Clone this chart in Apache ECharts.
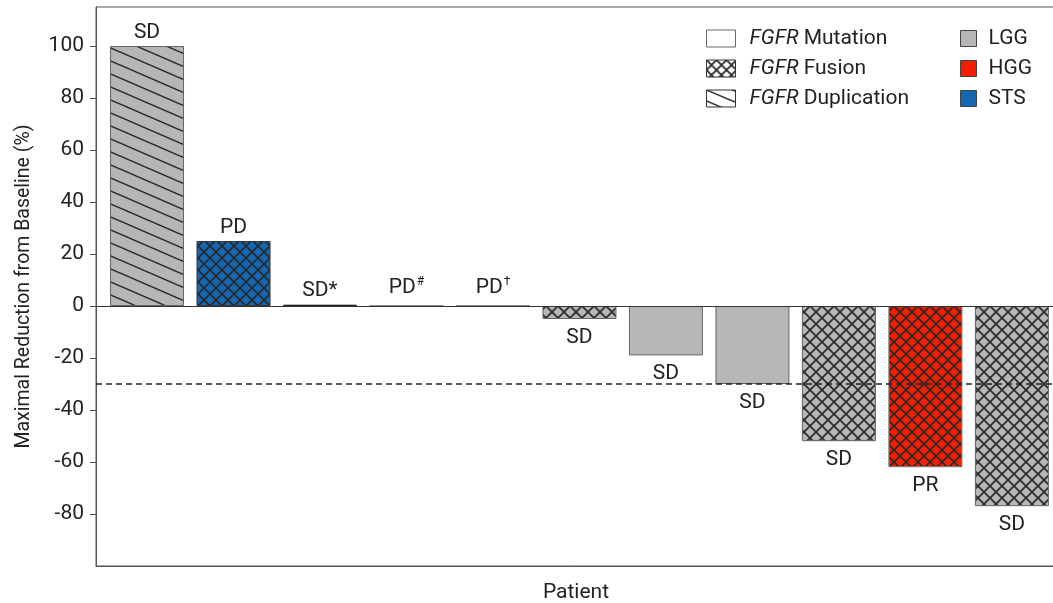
<!DOCTYPE html>
<html>
<head>
<meta charset="utf-8">
<script src="https://cdn.jsdelivr.net/npm/echarts@6/dist/echarts.min.js"></script>
<style>
  html, body { margin: 0; padding: 0; background: #fff; }
  #main { width: 1053px; height: 603px; }
</style>
</head>
<body>
<div id="main"></div>
<script>
// data
var patients = [1, 2, 3, 4, 5, 6, 7, 8, 9, 10, 11]
var reduction = [100, 25, 0.5, 0, 0, -5, -19, -30, -52, -62, -77]
var alteration = ['Duplication', 'Fusion', 'Mutation', 'Mutation', 'Mutation', 'Fusion', 'Mutation', 'Mutation', 'Fusion', 'Fusion', 'Fusion']
var tumor = ['LGG', 'STS', 'LGG', 'LGG', 'LGG', 'LGG', 'LGG', 'LGG', 'LGG', 'HGG', 'LGG']
var response = ['SD', 'PD', 'SD*', 'PD{sup|#}', 'PD{sup|†}', 'SD', 'SD', 'SD', 'SD', 'PR', 'SD']
var yTicks = [-80, -60, -40, -20, 0, 20, 40, 60, 80, 100]
var threshold = -30

var tumorColor = { LGG: '#b5b6b8', HGG: '#f51d00', STS: '#1467b3' }
var borderColor = { LGG: '#666', HGG: '#777', STS: '#333' }

// canvas patterns for hatch fills
function crossHatch (bg, s, lw) {
  var c = document.createElement('canvas')
  c.width = s; c.height = s
  var ctx = c.getContext('2d')
  ctx.fillStyle = bg
  ctx.fillRect(0, 0, s, s)
  ctx.strokeStyle = '#2a2a2a'
  ctx.lineWidth = lw
  for (var k = -1; k <= 1; k++) {
    ctx.beginPath()
    ctx.moveTo(k * s, 0); ctx.lineTo(k * s + s, s)
    ctx.moveTo(k * s + s, 0); ctx.lineTo(k * s, s)
    ctx.stroke()
  }
  return { image: c, repeat: 'repeat' }
}
function diagHatch (bg, w, h) {
  var c = document.createElement('canvas')
  c.width = w; c.height = h
  var ctx = c.getContext('2d')
  ctx.fillStyle = bg
  ctx.fillRect(0, 0, w, h)
  ctx.strokeStyle = '#2a2a2a'
  ctx.lineWidth = 1.5
  for (var k = -1; k <= 1; k++) {
    ctx.beginPath()
    ctx.moveTo(0, k * h); ctx.lineTo(w, k * h + h)
    ctx.stroke()
  }
  return { image: c, repeat: 'repeat' }
}
function fillFor (alt, bg) {
  if (alt === 'Fusion') return crossHatch(bg, 12, 1.7)
  if (alt === 'Duplication') return diagHatch(bg, 30, 13)
  return bg
}

var barData = patients.map(function (p, i) {
  var v = reduction[i]
  var t = tumor[i]
  return {
    value: [p, v],
    itemStyle: {
      color: fillFor(alteration[i], tumorColor[t]),
      borderColor: i === 2 ? '#222' : borderColor[t],
      borderWidth: 1
    },
    label: {
      position: v < 0 ? 'bottom' : 'top',
      distance: v < 0 ? 8 : (v > 0 ? 3 : 6),
      formatter: response[i]
    }
  }
})

var font = 'Roboto, "Liberation Sans", sans-serif'

var chart = echarts.init(document.getElementById('main'))
chart.setOption({
  animation: false,
  textStyle: { fontFamily: font },
  grid: {
    left: 96, right: -3, top: 7, bottom: 37,
    outerBoundsMode: 'none',
    show: true, borderColor: '#555', borderWidth: 1
  },
  legend: [
    {
      left: 701, top: 23, orient: 'vertical',
      itemWidth: 29, itemHeight: 17, itemGap: 9,
      icon: 'rect',
      selectedMode: false,
      textStyle: {
        fontSize: 21, lineHeight: 18, color: '#222', padding: [0, 0, 0, 9],
        rich: { i: { fontStyle: 'italic', fontSize: 21, lineHeight: 18, color: '#222', fontFamily: font } }
      },
      formatter: function (name) { return '{i|FGFR}' + name.slice(4) },
      data: [
        { name: 'FGFR Mutation', itemStyle: { color: '#fff', borderColor: '#666', borderWidth: 1, opacity: 1 } },
        { name: 'FGFR Fusion', itemStyle: { color: crossHatch('#fff', 10, 1.8), borderColor: '#333', borderWidth: 1, opacity: 1 } },
        { name: 'FGFR Duplication', itemStyle: { color: diagHatch('#fff', 26, 11), borderColor: '#333', borderWidth: 1, opacity: 1 } }
      ]
    },
    {
      left: 955, top: 23, orient: 'vertical',
      itemWidth: 16, itemHeight: 16, itemGap: 9,
      icon: 'rect',
      selectedMode: false,
      textStyle: { fontSize: 21, lineHeight: 18, color: '#222', padding: [0, 0, 0, 7] },
      data: ['LGG', 'HGG', 'STS'].map(function (t) {
        return { name: t, itemStyle: { color: tumorColor[t], borderColor: '#444', borderWidth: 1, opacity: 1 } }
      })
    }
  ],
  xAxis: {
    type: 'value',
    min: 0.41,
    max: 11.51,
    name: 'Patient',
    nameLocation: 'middle',
    nameGap: 16,
    nameTextStyle: { fontSize: 21, color: '#222', fontFamily: font },
    axisLine: { onZero: false, lineStyle: { color: '#555' } },
    axisTick: { show: false },
    axisLabel: { show: false },
    splitLine: { show: false }
  },
  yAxis: {
    type: 'value',
    min: -100,
    max: 115,
    interval: 20,
    name: 'Maximal Reduction from Baseline (%)',
    nameLocation: 'middle',
    nameGap: 62,
    nameTextStyle: { fontSize: 19.5, color: '#222', fontFamily: font },
    axisLine: { show: true, lineStyle: { color: '#555' } },
    axisTick: { show: true, length: 6, customValues: yTicks, lineStyle: { color: '#555' } },
    axisLabel: { fontSize: 21, color: '#222', margin: 12, customValues: yTicks },
    splitLine: { show: false }
  },
  series: [
    {
      type: 'bar',
      name: 'reduction',
      barWidth: 74,
      data: barData,
      label: {
        show: true,
        fontSize: 21,
        color: '#222',
        fontFamily: font,
        rich: {
          sup: { fontSize: 12, verticalAlign: 'top', lineHeight: 24, color: '#222', fontFamily: font, padding: [0, 0, 9, 1] }
        }
      },
      markLine: {
        silent: true,
        symbol: 'none',
        label: { show: false },
        data: [
          { yAxis: 0, lineStyle: { color: '#333', width: 1, type: 'solid' } },
          { yAxis: threshold, lineStyle: { color: '#222', width: 1.6, type: [6, 4] } }
        ]
      }
    },
    { type: 'scatter', name: 'FGFR Mutation', data: [], itemStyle: { opacity: 1 } },
    { type: 'scatter', name: 'FGFR Fusion', data: [], itemStyle: { opacity: 1 } },
    { type: 'scatter', name: 'FGFR Duplication', data: [], itemStyle: { opacity: 1 } },
    { type: 'scatter', name: 'LGG', data: [], itemStyle: { opacity: 1 } },
    { type: 'scatter', name: 'HGG', data: [], itemStyle: { opacity: 1 } },
    { type: 'scatter', name: 'STS', data: [], itemStyle: { opacity: 1 } }
  ]
})
</script>
</body>
</html>
